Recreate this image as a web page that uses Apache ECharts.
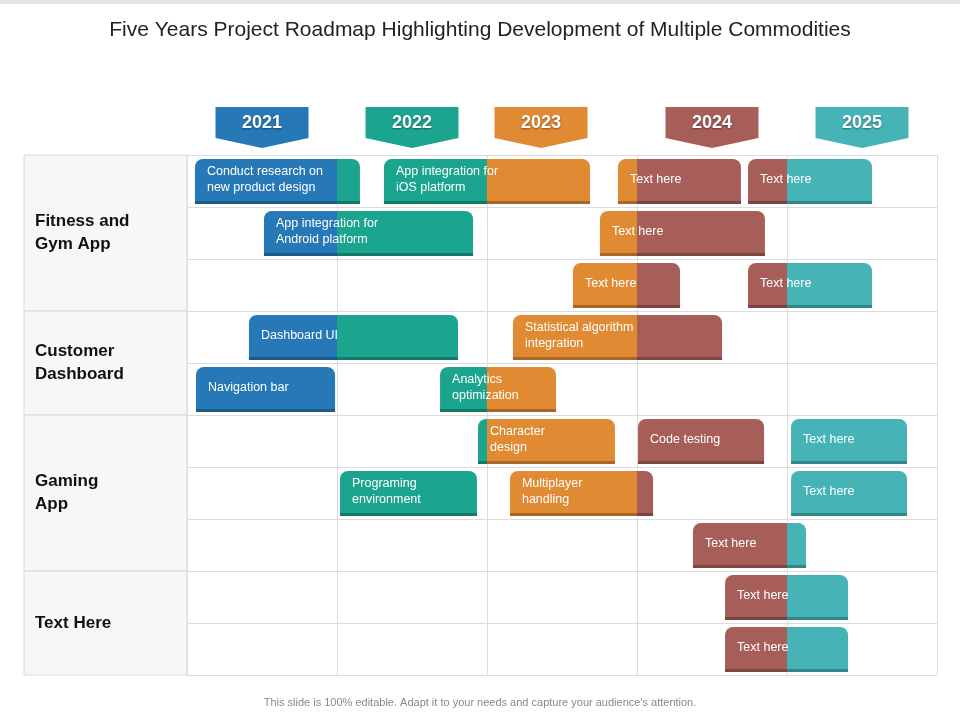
<!DOCTYPE html>
<html><head><meta charset="utf-8">
<script src="https://cdn.jsdelivr.net/npm/echarts@6/dist/echarts.min.js"></script>
<style>html,body{margin:0;padding:0;background:#fff}#c{width:960px;height:720px}</style>
</head><body><div id="c"></div>
<script>
const years = ['2021','2022','2023','2024','2025'];
const yearColors = ['#2778b6','#1ba58e','#e08a34','#a75e59','#46b4b7'];
const yearDark = ['#1d5a88','#137a69','#a86727','#7c4542','#338688'];
const bannerPos = [0.5,1.5,2.36,3.5,4.5];
const groups = ['Fitness and\nGym App','Customer\nDashboard','Gaming\nApp','Text Here'];
const groupRows = [[0,3],[3,5],[5,8],[8,10]];
// [row, start(year units), end(year units), label]
const tasks = [
 [0,0.053,1.153,'Conduct research on\nnew product design'],
 [0,1.313,2.687,'App integration for\niOS platform'],
 [0,2.873,3.693,'Text here'],
 [0,3.74,4.567,'Text here'],
 [1,0.513,1.907,'App integration for\nAndroid platform'],
 [1,2.753,3.853,'Text here'],
 [2,2.573,3.287,'Text here'],
 [2,3.74,4.567,'Text here'],
 [3,0.413,1.807,'Dashboard UI'],
 [3,2.173,3.567,'Statistical algorithm\nintegration'],
 [4,0.06,0.987,'Navigation bar'],
 [4,1.687,2.46,'Analytics\noptimization'],
 [5,1.94,2.853,'Character\ndesign'],
 [5,3.007,3.847,'Code testing'],
 [5,4.027,4.8,'Text here'],
 [6,1.02,1.933,'Programing\nenvironment'],
 [6,2.153,3.107,'Multiplayer\nhandling'],
 [6,4.027,4.8,'Text here'],
 [7,3.373,4.127,'Text here'],
 [8,3.587,4.407,'Text here'],
 [9,3.587,4.407,'Text here']
];
const chart = echarts.init(document.getElementById('c'));
const G = {left:187, right:23, top:155, bottom:45};
function barItem(params, api){
  const row = api.value(0), s = api.value(1), e = api.value(2);
  const p0 = api.coord([s,row]), p1 = api.coord([e,row+1]);
  const top = p0[1]+4, h = (p1[1]-p0[1])-7, x0=p0[0], x1=p1[0];
  const ch = [];
  for(let y=0;y<5;y++){
    const a=Math.max(s,y), b=Math.min(e,y+1);
    if(b<=a) continue;
    const xa=api.coord([a,row])[0], xb=api.coord([b,row])[0];
    const rl = (a===s)?8:0, rr=(b===e)?8:0;
    ch.push({type:'rect',shape:{x:xa,y:top,width:xb-xa+(b<e?0.5:0),height:h,r:[rl,rr,0,0]},style:{fill:yearColors[y]}});
    ch.push({type:'rect',shape:{x:xa,y:top+h-3,width:xb-xa+(b<e?0.5:0),height:3},style:{fill:yearDark[y]}});
  }
  const lbl = tasks[params.dataIndex][3];
  ch.push({type:'text',style:{text:lbl,x:x0+12,y:top+(h-3)/2,verticalAlign:'middle',fill:'#fff',font:'12.5px "Liberation Sans", Arial',lineHeight:16}});
  return {type:'group',children:ch};
}
function bannerItem(params, api){
  const c = api.coord([api.value(0),0]);
  const w=93, x=c[0]-w/2, top=c[1]-48, mid=c[1]-17, tip=c[1]-7;
  const i=params.dataIndex;
  return {type:'group',children:[
    {type:'polygon',shape:{points:[[x,top],[x+w,top],[x+w,mid],[c[0],tip],[x,mid]]},style:{fill:yearColors[i]}},
    {type:'text',style:{text:years[i],x:c[0],y:top+16,align:'center',verticalAlign:'middle',fill:'#fff',font:'bold 18px "Liberation Sans", Arial',textShadowColor:'rgba(0,0,0,0.4)',textShadowBlur:2,textShadowOffsetY:1}}
  ]};
}
const graphics = [
 {type:'text',left:'center',top:20,style:{text:'Five Years Project Roadmap Highlighting Development of Multiple Commodities',fill:'#222',font:'21px "Liberation Sans", Arial'}},
 {type:'text',left:'center',top:697,style:{text:"This slide is 100% editable. Adapt it to your needs and capture your audience's attention.",fill:'#888',font:'11px "Liberation Sans", Arial'}},
 {type:'rect',left:0,top:0,shape:{width:960,height:4},style:{fill:'#e4e4e4'}}
];
groupRows.forEach((g,i)=>{
  const t=155+g[0]*52, h=(g[1]-g[0])*52;
  graphics.push({type:'rect',x:24,y:t,shape:{width:163,height:h},style:{fill:'#f7f7f7',stroke:'#d9d9d9',lineWidth:1}});
  graphics.push({type:'text',x:35,y:t+h/2,style:{text:groups[i],verticalAlign:'middle',fill:'#111',font:'bold 17px "Liberation Sans", Arial',lineHeight:23}});
});
chart.setOption({
  animation:false,
  grid:G,
  xAxis:{type:'value',min:0,max:5,interval:1,axisLabel:{show:false},axisTick:{show:false},axisLine:{show:false},splitLine:{show:true,lineStyle:{color:'#dcdcdc'}}},
  yAxis:{type:'value',min:0,max:10,interval:1,inverse:true,axisLabel:{show:false},axisTick:{show:false},axisLine:{show:false},splitLine:{show:true,lineStyle:{color:'#dcdcdc'}}},
  graphic:graphics,
  series:[
    {type:'custom',renderItem:barItem,data:tasks.map(t=>[t[0],t[1],t[2]]),clip:false,z:3},
    {type:'custom',renderItem:bannerItem,data:bannerPos.map(p=>[p]),clip:false,z:3},
    {type:'line',data:[],markLine:{silent:true,symbol:'none',label:{show:false},lineStyle:{color:'#dcdcdc',type:'solid',width:1},data:[{xAxis:5},{yAxis:0},{yAxis:10}]}}
  ]
});
</script></body></html>
